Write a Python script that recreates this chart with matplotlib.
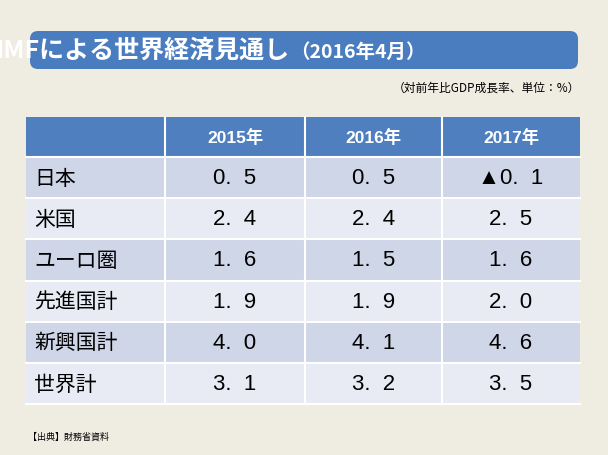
import matplotlib.pyplot as plt
from matplotlib.patches import FancyBboxPatch, Rectangle

plt.rcParams['font.family'] = ['Noto Sans CJK JP', 'DejaVu Sans']
num_font = ['Liberation Sans', 'Noto Sans CJK JP']

years = ['2015年', '2016年', '2017年']
regions = ['日本', '米国', 'ユーロ圏', '先進国計', '新興国計', '世界計']
v2015 = ['0.  5', '2.  4', '1.  6', '1.  9', '4.  0', '3.  1']
v2016 = ['0.  5', '2.  4', '1.  5', '1.  9', '4.  1', '3.  2']
v2017 = ['▲0.  1', '2.  5', '1.  6', '2.  0', '4.  6', '3.  5']

fig = plt.figure(figsize=(6.08, 4.56), dpi=100)
fig.patch.set_facecolor('#efece2')
ax = fig.add_axes([0, 0, 1, 1])
ax.set_xlim(0, 608)
ax.set_ylim(456, 0)
ax.axis('off')

# title banner
ax.add_patch(FancyBboxPatch((30, 32), 548, 38, boxstyle='round,pad=0,rounding_size=8',
                            fc='#4a7cc0', ec='none'))
ax.text(290, 51, 'IMFによる世界経済見通し', color='white', fontsize=18,
        fontweight='bold', ha='right', va='center')
ax.text(290, 52, '（2016年4月）', color='white', fontsize=14,
        fontweight='bold', ha='left', va='center')
ax.text(580, 88, '（対前年比GDP成長率、単位：%）', fontsize=8.5, ha='right', va='center')

cols = [26, 165, 305, 442, 580]
top, hh, rh = 118, 40, 41.2
ax.add_patch(Rectangle((cols[0], top), cols[-1] - cols[0], hh, fc='#4f7fbf', ec='none'))
for j, y in enumerate(years):
    ax.text((cols[j + 1] + cols[j + 2]) / 2, top + hh / 2, y, color='white', fontsize=12.5,
            fontweight='bold', ha='center', va='center', fontfamily=num_font)

for i, r in enumerate(regions):
    y0 = top + hh + i * rh
    ax.add_patch(Rectangle((cols[0], y0), cols[-1] - cols[0], rh,
                           fc='#cfd6e7' if i % 2 == 0 else '#e8ebf4', ec='none'))
    ax.text(cols[0] + 8, y0 + rh / 2, r, fontsize=15, ha='left', va='center')
    for j, vals in enumerate([v2015, v2016, v2017]):
        ax.text((cols[j + 1] + cols[j + 2]) / 2, y0 + rh / 2, vals[i], fontsize=16,
                ha='center', va='center', fontfamily=num_font)

bottom = top + hh + len(regions) * rh
for i in range(len(regions) + 1):
    ax.plot([cols[0], cols[-1]], [top + hh + i * rh] * 2, color='white', lw=1.5)
for x in cols[1:-1]:
    ax.plot([x, x], [top, bottom], color='white', lw=1.5)

ax.text(28, 437, '【出典】財務省資料', fontsize=6.5, ha='left', va='center')

fig.savefig('out.png', dpi=100, facecolor=fig.get_facecolor())
